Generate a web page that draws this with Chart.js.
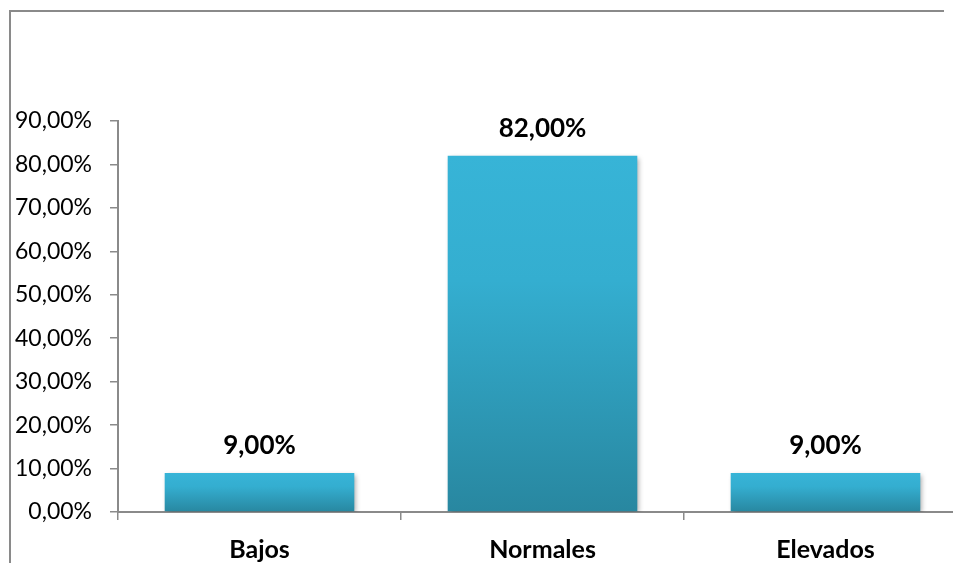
<!DOCTYPE html>
<html>
<head>
<meta charset="utf-8">
<script src="https://cdn.jsdelivr.net/npm/chart.js@4/dist/chart.umd.min.js"></script>
<style>
  html, body { margin: 0; padding: 0; background: #fff; overflow: hidden; }
  #wrap { position: relative; width: 953px; height: 563px; overflow: hidden; }
  #c { display: block; }
</style>
</head>
<body>
<div id="wrap">
  <canvas id="c" width="967" height="563"></canvas>
</div>
<script>
// Niveles y su porcentaje
const categories = ['Bajos', 'Normales', 'Elevados'];
const values = [9, 82, 9];
const yTicks = [0, 10, 20, 30, 40, 50, 60, 70, 80, 90];

const fmt = v => v.toFixed(2).replace('.', ',') + '%';
const FONT = 'Lato, "Open Sans", sans-serif';

// vertical gradient spanning each bar's own height
function barGradient(context) {
  const chart = context.chart;
  const { ctx, chartArea, scales } = chart;
  if (!chartArea) return '#35b2d5';
  const top = scales.y.getPixelForValue(context.raw);
  const base = scales.y.getPixelForValue(0);
  const g = ctx.createLinearGradient(0, top, 0, base);
  g.addColorStop(0, '#37b4d7');
  g.addColorStop(0.35, '#34aed0');
  g.addColorStop(1, '#2887a0');
  return g;
}

// outer frame of the chart object: left and top edges
const outerFrame = {
  id: 'outerFrame',
  beforeDraw(chart) {
    const ctx = chart.ctx;
    ctx.save();
    ctx.strokeStyle = '#8a8a8a';
    ctx.lineWidth = 2;
    ctx.beginPath();
    ctx.moveTo(10, chart.height);
    ctx.lineTo(10, 11);
    ctx.lineTo(944, 11);
    ctx.stroke();
    ctx.restore();
  }
};

const barShadow = {
  id: 'barShadow',
  beforeDatasetsDraw(chart) {
    const ctx = chart.ctx;
    ctx.save();
    ctx.shadowColor = 'rgba(0,0,0,0.35)';
    ctx.shadowBlur = 5;
    ctx.shadowOffsetX = 2;
    ctx.shadowOffsetY = 2;
  },
  afterDatasetsDraw(chart) {
    chart.ctx.restore();
  }
};

const valueLabels = {
  id: 'valueLabels',
  afterDatasetsDraw(chart) {
    const ctx = chart.ctx;
    const meta = chart.getDatasetMeta(0);
    ctx.save();
    ctx.font = 'bold 26px ' + FONT;
    ctx.fillStyle = '#000';
    ctx.textAlign = 'center';
    ctx.textBaseline = 'middle';
    meta.data.forEach((bar, i) => {
      ctx.fillText(fmt(values[i]), bar.x, bar.y - 27);
    });
    ctx.restore();
  }
};

new Chart(document.getElementById('c'), {
  type: 'bar',
  data: {
    labels: categories,
    datasets: [{
      data: values,
      backgroundColor: barGradient,
      borderWidth: 0,
      barPercentage: 0.67,
      categoryPercentage: 1.0
    }]
  },
  options: {
    responsive: false,
    animation: false,
    events: [],
    layout: { padding: { top: 121, left: 0, right: 0, bottom: 0 } },
    plugins: { legend: { display: false }, tooltip: { enabled: false } },
    scales: {
      x: {
        offset: true,
        grid: {
          offset: true,
          drawOnChartArea: false,
          drawTicks: true,
          tickLength: 8,
          color: '#8a8a8a',
          lineWidth: 1.5
        },
        border: { color: '#8a8a8a', width: 2 },
        ticks: {
          color: '#000',
          padding: 15,
          font: { family: FONT, size: 25, weight: 'bold' }
        },
        afterFit(scale) { scale.height = 51; }
      },
      y: {
        min: 0,
        max: 90,
        afterBuildTicks(scale) { scale.ticks = yTicks.map(v => ({ value: v })); },
        grid: {
          drawOnChartArea: false,
          drawTicks: true,
          tickLength: 8,
          color: '#8a8a8a',
          lineWidth: 1.5
        },
        border: { color: '#8a8a8a', width: 2 },
        ticks: {
          color: '#000',
          padding: 18,
          callback: v => fmt(v),
          font: { family: FONT, size: 23 }
        },
        afterFit(scale) { scale.width = 118; }
      }
    }
  },
  plugins: [outerFrame, barShadow, valueLabels]
});
</script>
</body>
</html>
